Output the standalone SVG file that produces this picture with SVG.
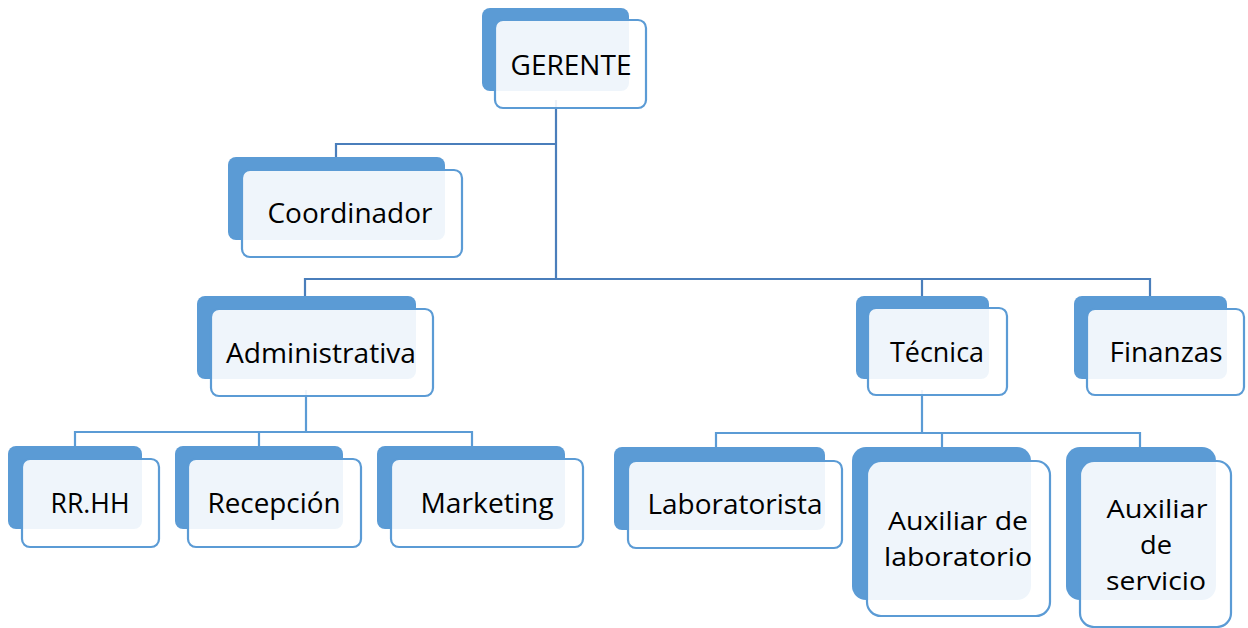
<svg xmlns="http://www.w3.org/2000/svg" width="1248" height="628" viewBox="0 0 1248 628">
<style>
.bk{fill:#5B9BD5}
.fr{fill:#FFFFFF;fill-opacity:0.9;stroke:#5B9BD5;stroke-width:2.2}
.t{font-family:"Open Sans","Liberation Sans",sans-serif;font-size:28px;fill:#000;text-anchor:middle}
.s{font-size:26px}
.c1{fill:none;stroke:#4A7EBB;stroke-width:2.2}
.c2{fill:none;stroke:#5B9BD5;stroke-width:2.2}
</style>
<rect width="1248" height="628" fill="#FFFFFF"/>
<g id="connectors">
<path class="c1" d="M556,100 V279 M336,157 V144 H556 M305,296 V279 H1150 V296 M922,279 V296"/>
<path class="c2" d="M306,390 V432 M75,446 V432 H472 V446 M259,432 V446 M922,390 V433 M716,447 V433 H1140 V447 M942,433 V447"/>
</g>
<g id="gerente">
<rect class="bk" x="482" y="8" width="147" height="83" rx="8"/>
<rect class="fr" x="495" y="20" width="151" height="88" rx="8"/>
<text class="t" x="571" y="75" textLength="121" lengthAdjust="spacingAndGlyphs">GERENTE</text>
</g>
<g id="coordinador">
<rect class="bk" x="228" y="157" width="217" height="83" rx="8"/>
<rect class="fr" x="242" y="170" width="220" height="87" rx="8"/>
<text class="t" x="350" y="223" textLength="165" lengthAdjust="spacingAndGlyphs">Coordinador</text>
</g>
<g id="administrativa">
<rect class="bk" x="197" y="296" width="219" height="83" rx="8"/>
<rect class="fr" x="211" y="309" width="222" height="87" rx="8"/>
<text class="t" x="321" y="363" textLength="190" lengthAdjust="spacingAndGlyphs">Administrativa</text>
</g>
<g id="tecnica">
<rect class="bk" x="856" y="296" width="133" height="83" rx="8"/>
<rect class="fr" x="868" y="308" width="139" height="87" rx="8"/>
<text class="t" x="937" y="362" textLength="94" lengthAdjust="spacingAndGlyphs">Técnica</text>
</g>
<g id="finanzas">
<rect class="bk" x="1074" y="296" width="153" height="83" rx="8"/>
<rect class="fr" x="1087" y="309" width="157" height="86" rx="8"/>
<text class="t" x="1166" y="362" textLength="113" lengthAdjust="spacingAndGlyphs">Finanzas</text>
</g>
<g id="rrhh">
<rect class="bk" x="8" y="446" width="134" height="83" rx="8"/>
<rect class="fr" x="22" y="459" width="137" height="88" rx="8"/>
<text class="t" x="90" y="513" textLength="79" lengthAdjust="spacingAndGlyphs">RR.HH</text>
</g>
<g id="recepcion">
<rect class="bk" x="175" y="446" width="168" height="83" rx="8"/>
<rect class="fr" x="188" y="459" width="173" height="88" rx="8"/>
<text class="t" x="274" y="513" textLength="133" lengthAdjust="spacingAndGlyphs">Recepción</text>
</g>
<g id="marketing">
<rect class="bk" x="377" y="446" width="188" height="83" rx="8"/>
<rect class="fr" x="391" y="459" width="192" height="88" rx="8"/>
<text class="t" x="487" y="513" textLength="133" lengthAdjust="spacingAndGlyphs">Marketing</text>
</g>
<g id="laboratorista">
<rect class="bk" x="614" y="447" width="211" height="83" rx="8"/>
<rect class="fr" x="628" y="461" width="214" height="87" rx="8"/>
<text class="t" x="735" y="514" textLength="175" lengthAdjust="spacingAndGlyphs">Laboratorista</text>
</g>
<g id="auxiliar-laboratorio">
<rect class="bk" x="852" y="447" width="179" height="153" rx="14"/>
<rect class="fr" x="867" y="461" width="183" height="155" rx="14"/>
<text class="t s" x="958" y="530" textLength="140" lengthAdjust="spacingAndGlyphs">Auxiliar de</text>
<text class="t s" x="958" y="566" textLength="148" lengthAdjust="spacingAndGlyphs">laboratorio</text>
</g>
<g id="auxiliar-servicio">
<rect class="bk" x="1066" y="447" width="150" height="153" rx="14"/>
<rect class="fr" x="1080" y="461" width="151" height="166" rx="14"/>
<text class="t s" x="1157" y="518" textLength="101" lengthAdjust="spacingAndGlyphs">Auxiliar</text>
<text class="t s" x="1156" y="554" textLength="32" lengthAdjust="spacingAndGlyphs">de</text>
<text class="t s" x="1156" y="590" textLength="100" lengthAdjust="spacingAndGlyphs">servicio</text>
</g>
</svg>
